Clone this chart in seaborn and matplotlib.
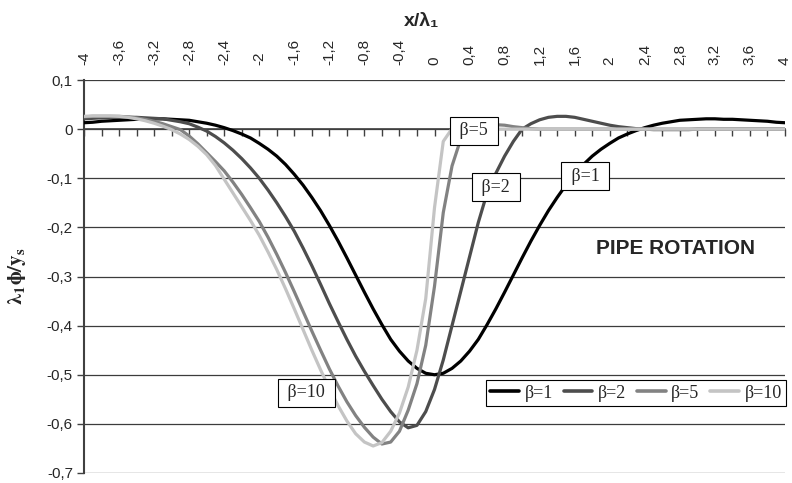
import numpy as np
import pandas as pd
import matplotlib
matplotlib.use("Agg")
import matplotlib.pyplot as plt
from matplotlib.ticker import FixedLocator, FixedFormatter
import seaborn as sns

# ---------------- data ----------------
x = np.round(np.arange(-40, 41) / 10, 1)   # x/lambda1 grid, -4 .. 4 step 0.1

beta1 = [0.013, 0.014, 0.016, 0.017, 0.018, 0.019, 0.020, 0.020, 0.021, 0.021, 0.020,
         0.019, 0.018, 0.015, 0.012, 0.008, 0.003, -0.003, -0.010, -0.018, -0.029,
         -0.041, -0.055, -0.072, -0.092, -0.114, -0.139, -0.166, -0.196, -0.228, -0.262,
         -0.297, -0.332, -0.366, -0.398, -0.428, -0.452, -0.472, -0.487, -0.497,
         -0.500,
         -0.497, -0.487, -0.472, -0.452, -0.428, -0.398, -0.366, -0.332, -0.297, -0.262,
         -0.228, -0.196, -0.166, -0.139, -0.114, -0.092, -0.072, -0.055, -0.041, -0.029,
         -0.018, -0.010, -0.003, 0.003, 0.008, 0.012, 0.015, 0.018, 0.019, 0.020,
         0.021, 0.021, 0.020, 0.020, 0.019, 0.018, 0.017, 0.016, 0.014, 0.013]

beta2 = [0.021, 0.022, 0.023, 0.024, 0.024, 0.024, 0.024, 0.023, 0.022, 0.021, 0.018,
         0.015, 0.011, 0.004, -0.004, -0.015, -0.028, -0.043, -0.060, -0.079, -0.100,
         -0.124, -0.150, -0.178, -0.208, -0.242, -0.278, -0.316, -0.355, -0.392, -0.428,
         -0.462, -0.493, -0.522, -0.550, -0.575, -0.596, -0.608, -0.603, -0.575,
         -0.530,
         -0.470, -0.400, -0.330, -0.260, -0.190, -0.130, -0.090, -0.055, -0.025, 0.000,
         0.011, 0.019, 0.024, 0.026, 0.026, 0.024, 0.020, 0.016, 0.012, 0.008,
         0.005, 0.003, 0.001, 0.000, -0.001, -0.001, -0.001, -0.001, -0.001, 0.000,
         0.000, 0.000, 0.000, 0.000, 0.000, 0.000, 0.000, 0.000, 0.000, 0.000]

beta5 = [0.025, 0.026, 0.026, 0.026, 0.026, 0.025, 0.023, 0.020, 0.016, 0.011, 0.005,
         -0.001, -0.014, -0.030, -0.048, -0.066, -0.085, -0.108, -0.133, -0.160, -0.188,
         -0.220, -0.255, -0.292, -0.331, -0.371, -0.411, -0.450, -0.488, -0.523, -0.555,
         -0.583, -0.607, -0.627, -0.641, -0.637, -0.615, -0.572, -0.518, -0.440,
         -0.320,
         -0.170, -0.075, -0.020, 0.000, 0.005, 0.008, 0.009, 0.008, 0.005, 0.003,
         0.001, 0.000, 0.000, 0.000, 0.000, 0.000, 0.000, 0.000, 0.000, 0.000,
         0.000, 0.000, 0.000, 0.000, 0.000, 0.000, 0.000, 0.000, 0.000, 0.000,
         0.000, 0.000, 0.000, 0.000, 0.000, 0.000, 0.000, 0.000, 0.000, 0.000]

beta10 = [0.026, 0.027, 0.027, 0.027, 0.026, 0.024, 0.021, 0.017, 0.012, 0.006, -0.001,
          -0.010, -0.021, -0.035, -0.052, -0.074, -0.102, -0.130, -0.158, -0.186, -0.216,
          -0.250, -0.286, -0.325, -0.366, -0.408, -0.450, -0.490, -0.528, -0.563, -0.594,
          -0.620, -0.637, -0.645, -0.638, -0.615, -0.578, -0.525, -0.450, -0.345,
          -0.160,
          -0.025, 0.001, 0.000, 0.000, 0.000, 0.000, 0.000, 0.000, 0.000, 0.000,
          0.000, 0.000, 0.000, 0.000, 0.000, 0.000, 0.000, 0.000, 0.000, 0.000,
          0.000, 0.000, 0.000, 0.000, 0.000, 0.000, 0.000, 0.000, 0.000, 0.000,
          0.000, 0.000, 0.000, 0.000, 0.000, 0.000, 0.000, 0.000, 0.000, 0.000]

series_labels = ["β=1", "β=2", "β=5", "β=10"]
series_colors = ["#000000", "#4d4d4d", "#828282", "#c4c4c4"]

xtick_values = [-4, -3.6, -3.2, -2.8, -2.4, -2, -1.6, -1.2, -0.8, -0.4, 0,
                0.4, 0.8, 1.2, 1.6, 2, 2.4, 2.8, 3.2, 3.6, 4]
xtick_labels = ["-4", "-3,6", "-3,2", "-2,8", "-2,4", "-2", "-1,6", "-1,2", "-0,8", "-0,4", "0",
                "0,4", "0,8", "1,2", "1,6", "2", "2,4", "2,8", "3,2", "3,6", "4"]
ytick_values = [0.1, 0, -0.1, -0.2, -0.3, -0.4, -0.5, -0.6, -0.7]
ytick_labels = ["0,1", "0", "-0,1", "-0,2", "-0,3", "-0,4", "-0,5", "-0,6", "-0,7"]

ann_labels = ["β=1", "β=2", "β=5", "β=10"]
ann_x = [1.72, 0.70, 0.45, -1.46]
ann_y = [-0.096, -0.118, -0.003, -0.537]

title_text = "PIPE ROTATION"

# ---------------- figure ----------------
sns.set_theme(style="white")
plt.rcParams["font.family"] = ["Liberation Sans", "DejaVu Sans"]
plt.rcParams["mathtext.fontset"] = "stix"

W, H = 792, 483
fig = plt.figure(figsize=(W / 100, H / 100), dpi=100)
L, R, T, B = 84, 785, 80, 473
ax = fig.add_axes([L / W, 1 - B / H, (R - L) / W, (B - T) / H])

df = pd.DataFrame({
    "x": np.tile(x, 4),
    "y": beta1 + beta2 + beta5 + beta10,
    "series": np.repeat(series_labels, len(x)),
})
sns.lineplot(data=df, x="x", y="y", hue="series", hue_order=series_labels,
             palette=dict(zip(series_labels, series_colors)),
             linewidth=2.3, estimator=None, sort=False, ax=ax, zorder=3)

ax.set_xlim(-4, 4)
ax.set_ylim(-0.7, 0.1)

# axes styling
for s in ["top", "right"]:
    ax.spines[s].set_visible(False)
ax.spines["bottom"].set_position(("data", 0))
ax.spines["bottom"].set_color("#404040")
ax.spines["bottom"].set_linewidth(1.2)
ax.spines["left"].set_color("#404040")
ax.spines["left"].set_linewidth(1.5)

ax.xaxis.set_major_locator(FixedLocator(xtick_values))
ax.xaxis.set_major_formatter(FixedFormatter(xtick_labels))
ax.xaxis.set_minor_locator(FixedLocator([v + 0.2 for v in xtick_values[:-1]]))
ax.tick_params(axis="x", which="both", bottom=True, top=False, labelbottom=False,
               labeltop=True, direction="out", length=5, width=1, color="#404040",
               labelsize=11, pad=6, labelrotation=90)
ax.yaxis.set_major_locator(FixedLocator(ytick_values))
ax.yaxis.set_major_formatter(FixedFormatter(ytick_labels))
ax.tick_params(axis="y", left=True, direction="out", length=5, width=1,
               color="#404040", labelsize=11, pad=3)

ax.yaxis.grid(True, color="#3c3c3c", linewidth=0.9)
ax.xaxis.grid(False)
ax.set_axisbelow(True)

# axis labels
ax.set_xlabel("x/λ₁", fontsize=14, fontweight="bold",
              family=["Liberation Sans", "DejaVu Sans"], va="center")
ax.xaxis.set_label_position("top")
ax.xaxis.set_label_coords((421 - L) / (R - L), (B - 26) / (B - T))
ax.set_ylabel(r"$\mathbf{\lambda_1 \phi / y_s}$", fontsize=15, va="center")
ax.yaxis.set_label_coords(-(L - 17) / (R - L), 0.5)

# annotations
for lab, ax_, ay_ in zip(ann_labels, ann_x, ann_y):
    ax.text(ax_, ay_, " " + lab + " ", ha="center", va="center", fontsize=13,
            family="Liberation Serif", zorder=5,
            bbox=dict(boxstyle="square,pad=0.3", fc="white", ec="black", lw=0.8))

ax.text(2.75, -0.243, title_text, ha="center", va="center", fontsize=15,
        fontweight="bold", zorder=5)

handles, labels = ax.get_legend_handles_labels()
leg = ax.legend(handles, labels, loc="center",
                bbox_to_anchor=((636 - L) / (R - L), (B - 393) / (B - T)),
                ncol=4, frameon=True, fancybox=False, edgecolor="black",
                framealpha=1, prop={"family": "Liberation Serif", "size": 13},
                handlelength=1.6, handletextpad=0.3, columnspacing=0.6,
                borderpad=0.25, borderaxespad=0)
leg.get_frame().set_linewidth(0.8)
for h in leg.get_lines():
    h.set_linewidth(2.6)
leg.set_zorder(6)

fig.savefig("out.png", dpi=100)
